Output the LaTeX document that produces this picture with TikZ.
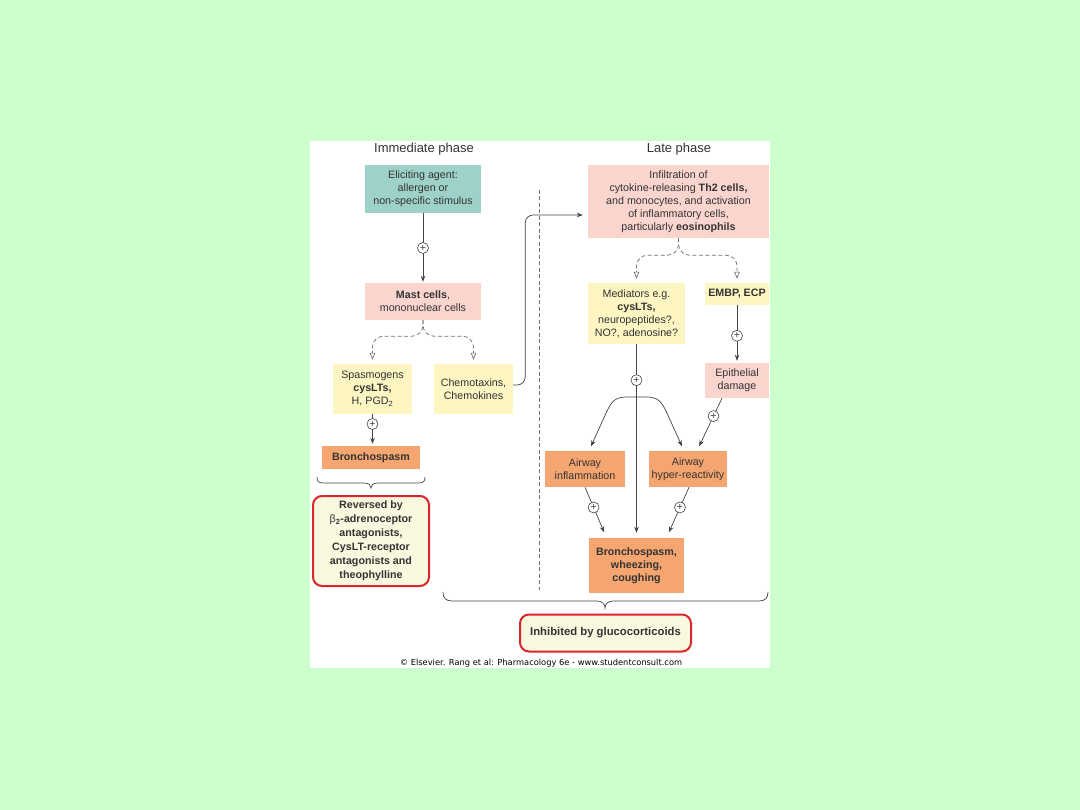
\documentclass[tikz,border=0pt]{standalone}
\usepackage{fontspec}
\setmainfont{Liberation Sans}
\newfontfamily\copyfont{DejaVu Sans}
\usetikzlibrary{arrows.meta}
\definecolor{bggreen}{HTML}{CCFFCC}
\definecolor{tealc}{HTML}{9ED1C7}
\definecolor{pinkc}{HTML}{FAD5CE}
\definecolor{yelc}{HTML}{FDF5C2}
\definecolor{orc}{HTML}{F5A56F}
\definecolor{redc}{HTML}{D9262C}
\definecolor{creamc}{HTML}{FAF8DF}
\definecolor{txtc}{HTML}{333333}
\definecolor{linec}{HTML}{444444}
\definecolor{dashc}{HTML}{707070}
\newcommand\dtxt{\fontsize{10.7}{13}\selectfont}
\begin{document}
\begin{tikzpicture}[x=1pt,y=-1pt,
  box/.style={draw=none, inner sep=0pt, align=center, font=\dtxt, text=txtc},
  redbox/.style={box, draw=redc, line width=2pt, rounded corners=9pt, fill=creamc},
  title/.style={inner sep=0pt, font=\fontsize{13}{15}\selectfont, text=txtc},
  arr/.style={draw=linec, line width=0.7pt, -{Stealth[length=6pt,width=4.5pt]}},
  dsh/.style={draw=dashc, line width=0.7pt, dash pattern=on 4pt off 2.5pt,
    -{Triangle[open,length=7pt,width=5.5pt]}, shorten >=4pt, rounded corners=11pt},
  pl/.style={circle, draw=linec, fill=white, minimum size=11pt, inner sep=0pt, line width=0.6pt,
    text=linec, font=\fontsize{10.5}{10.5}\selectfont},
  brace/.style={draw=linec, line width=0.7pt}
]
\fill[bggreen] (0,0) rectangle (1080,810);
\useasboundingbox (0,0) rectangle (1080,810);
\fill[white] (310,141) rectangle (770,668);

% titles
\node[title] (t1) at (424,149) {Immediate phase};
\node[title] (t2) at (679,149) {Late phase};

% immediate phase
\node[box, fill=tealc, minimum width=116pt, minimum height=48pt] (elicit) at (423,189)
  {Eliciting agent:\\allergen or\\non-specific stimulus};
\node[box, fill=pinkc, minimum width=116pt, minimum height=37pt] (mast) at (423,301.5)
  {\textbf{Mast cells},\\mononuclear cells};
\node[box, fill=yelc, minimum width=79pt, minimum height=50pt] (spasm) at (372.5,389)
  {Spasmogens\\\textbf{cysLTs,}\\H, PGD\textsubscript{2}};
\node[box, fill=yelc, minimum width=79pt, minimum height=50pt] (chemo) at (473.5,389)
  {Chemotaxins,\\Chemokines};
\node[box, fill=orc, minimum width=98pt, minimum height=23pt] (bronchA) at (371,457.5)
  {\textbf{Bronchospasm}};
\node[redbox, minimum width=116pt, minimum height=90pt, font=\fontsize{10.7}{14}\selectfont] (rev) at (371,541)
  {\textbf{Reversed by}\\{\mdseries β}\textsubscript{\textbf{2}}\textbf{-adrenoceptor}\\\textbf{antagonists,}\\\textbf{CysLT-receptor}\\\textbf{antagonists and}\\\textbf{theophylline}};

% late phase
\node[box, fill=pinkc, minimum width=181pt, minimum height=73pt] (infil) at (678.5,201.5)
  {Infiltration of\\cytokine-releasing \textbf{Th2 cells,}\\and monocytes, and activation\\of inflammatory cells,\\particularly \textbf{eosinophils}};
\node[box, fill=yelc, minimum width=97pt, minimum height=61pt] (med) at (636.5,313.5)
  {Mediators e.g.\\\textbf{cysLTs,}\\neuropeptides?,\\NO?, adenosine?};
\node[box, fill=yelc, minimum width=64pt, minimum height=22pt] (embp) at (737,294)
  {\textbf{EMBP, ECP}};
\node[box, fill=pinkc, minimum width=64pt, minimum height=35pt] (epith) at (737,380.5)
  {Epithelial\\damage};
\node[box, fill=orc, minimum width=80pt, minimum height=36pt] (airinf) at (585,469)
  {Airway\\inflammation};
\node[box, fill=orc, minimum width=78pt, minimum height=36pt] (airhyp) at (688,469)
  {Airway\\hyper-reactivity};
\node[box, fill=orc, minimum width=95pt, minimum height=55pt] (bronchB) at (636.5,565.5)
  {\textbf{Bronchospasm,}\\\textbf{wheezing,}\\\textbf{coughing}};
\node[redbox, minimum width=171pt, minimum height=37pt, font=\fontsize{11.3}{13}\selectfont] (inhib) at (605.5,633)
  {\textbf{Inhibited by glucocorticoids}};

\node[inner sep=0pt, text=black, font=\copyfont\fontsize{8.3}{9}\selectfont] (copy) at (541,663)
  {© Elsevier. Rang et al: Pharmacology 6e - www.studentconsult.com};

% divider
\draw[dashc, line width=0.6pt, dash pattern=on 4pt off 2.5pt] (539,190) -- (539,590);

% immediate connectors
\draw[arr, shorten >=1pt] (elicit.south) -- node[pl] {+} (mast.north);
\draw[dsh] (mast.south) -- ++(0,16) -| (spasm.north);
\draw[dsh] (mast.south) -- ++(0,16) -| (chemo.north);
\draw[arr, rounded corners=8pt, shorten >=5pt] ([yshift=4pt]chemo.east) -- ++(12,0) |- ([yshift=-13.5pt]infil.west);
\draw[arr, shorten >=2pt] (spasm.south) -- node[pl, pos=0.31] {+} (spasm.south |- bronchA.north);

% late connectors
\draw[dsh] (infil.south) -- ++(0,17) -| (med.north);
\draw[dsh] (infil.south) -- ++(0,17) -| (embp.north);
\draw[arr, shorten >=2pt] (embp.south) -- node[pl, pos=0.53] {+} (epith.north);
\draw[arr, shorten >=5pt] (med.south) -- node[pl, pos=0.186] {+} (med.south |- bronchB.north);
\coordinate (arch) at (636.5,397);
\draw[arr, shorten >=5pt] (arch) -- ++(-10,0) .. controls ++(-12,0) and ++(5,-10) .. ++(-20,15) -- ([xshift=4pt]airinf.north);
\draw[arr, shorten >=5pt] (arch) -- ++(10,0) .. controls ++(12,0) and ++(-5,-10) .. ++(20,15) -- ([xshift=-4pt]airhyp.north);
\draw[arr, shorten >=5pt] ([xshift=-15pt]epith.south) -- node[pl, pos=0.34] {+} ([xshift=9pt]airhyp.north);
\draw[arr, shorten >=6pt] (airinf.south) -- node[pl, pos=0.4] {+} ([xshift=-30pt]bronchB.north);
\draw[arr, shorten >=6pt] ([xshift=1pt]airhyp.south) -- node[pl, pos=0.4] {+} ([xshift=30pt]bronchB.north);

% braces
\draw[brace] (317,477) .. controls (317,482) and (319,483) .. (324,483) -- (364,483)
  .. controls (369,483) and (371,485) .. (371,488) .. controls (371,485) and (373,483) .. (378,483)
  -- (418,483) .. controls (423,483) and (425,482) .. (425,477);
\draw[brace] (443,592) .. controls (443,598) and (446,601) .. (452,601) -- (597,601)
  .. controls (602,601) and (605,604) .. (605,608) .. controls (605,604) and (608,601) .. (613,601)
  -- (759,601) .. controls (765,601) and (768,598) .. (768,592);
\end{tikzpicture}
\end{document}
